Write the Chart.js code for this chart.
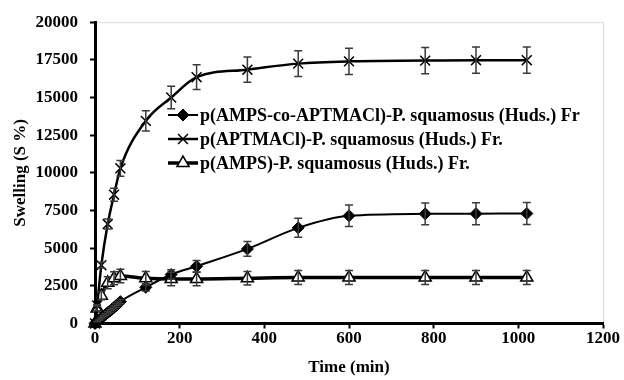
<!DOCTYPE html>
<html>
<head>
<meta charset="utf-8">
<script src="https://cdn.jsdelivr.net/npm/chart.js@4.4.1/dist/chart.umd.min.js"></script>
<style>
  html, body { margin: 0; padding: 0; background: #fff; }
  #wrap { width: 624px; height: 380px; position: relative; }
</style>
</head>
<body>
<div id="wrap"><canvas id="swellChart" width="624" height="380"></canvas></div>
<script>
// dados (tempo em min, swelling em %)
const tempoCo = [0, 5, 10, 15, 20, 25, 30, 35, 40, 45, 50, 55, 60, 120, 180, 240, 360, 480, 600, 780, 900, 1020];
const swellCo = [0, 120, 240, 360, 480, 600, 720, 830, 950, 1070, 1190, 1320, 1450, 2400, 3250, 3800, 4950, 6350, 7150, 7280, 7290, 7300];
const erroCo  = [0, 10, 20, 35, 45, 60, 70, 80, 95, 105, 120, 130, 145, 240, 320, 380, 490, 630, 710, 720, 730, 730];

const tempoCat = [0, 5, 15, 30, 45, 60, 120, 180, 240, 360, 480, 600, 780, 900, 1020];
const swellCat = [0, 1200, 3870, 6600, 8550, 10300, 13450, 15000, 16350, 16850, 17250, 17400, 17450, 17480, 17480];
const erroCat  = [0, 60, 190, 330, 430, 520, 670, 750, 820, 840, 860, 870, 870, 875, 875];

const tempoAn = [0, 5, 15, 30, 45, 60, 120, 180, 240, 360, 480, 600, 780, 900, 1020];
const swellAn = [0, 1000, 1850, 2700, 3000, 3150, 3000, 2950, 2950, 3000, 3050, 3050, 3050, 3050, 3050];
const erroAn  = [0, 150, 280, 400, 430, 450, 450, 450, 450, 450, 460, 460, 460, 460, 460];

const nomes = [
  'p(AMPS-co-APTMACl)-P. squamosus (Huds.) Fr',
  'p(APTMACl)-P. squamosus (Huds.) Fr.',
  'p(AMPS)-P. squamosus (Huds.) Fr.'
];

const ticksX = [0, 200, 400, 600, 800, 1000, 1200];
const ticksY = [0, 2500, 5000, 7500, 10000, 12500, 15000, 17500, 20000];

const fonte = 'Liberation Serif, Times New Roman, serif';

function pontos(xs, ys) {
  return xs.map((x, i) => ({ x: x, y: ys[i] }));
}

const erros = [erroCo, erroCat, erroAn];

// barras de erro
const errorBars = {
  id: 'errorBars',
  afterDatasetsDraw(chart) {
    const ctx = chart.ctx;
    const y = chart.scales.y;
    ctx.save();
    ctx.strokeStyle = '#3a3a3a';
    ctx.lineWidth = 1.5;
    chart.data.datasets.forEach((ds, i) => {
      const meta = chart.getDatasetMeta(i);
      meta.data.forEach((pt, j) => {
        const e = erros[i][j];
        if (!e) return;
        const v = ds.data[j].y;
        const top = y.getPixelForValue(v + e);
        const bot = y.getPixelForValue(v - e);
        ctx.beginPath();
        ctx.moveTo(pt.x, top); ctx.lineTo(pt.x, bot);
        ctx.moveTo(pt.x - 4, top); ctx.lineTo(pt.x + 4, top);
        ctx.moveTo(pt.x - 4, bot); ctx.lineTo(pt.x + 4, bot);
        ctx.stroke();
      });
    });
    ctx.restore();
  }
};

// moldura cinza da área do gráfico
const moldura = {
  id: 'moldura',
  beforeDraw(chart) {
    const a = chart.chartArea;
    const ctx = chart.ctx;
    ctx.save();
    ctx.strokeStyle = '#d9d9d9';
    ctx.lineWidth = 1;
    ctx.strokeRect(a.left + 0.5, a.top + 0.5, a.right - a.left, a.bottom - a.top);
    ctx.restore();
  }
};

// legenda dentro do gráfico
const legenda = {
  id: 'legendaInterna',
  afterDraw(chart) {
    const ctx = chart.ctx;
    const linhas = [115, 139, 163];
    ctx.save();
    chart.data.datasets.forEach((ds, i) => {
      const yy = linhas[i];
      ctx.strokeStyle = '#000';
      ctx.lineWidth = ds.borderWidth;
      ctx.beginPath();
      ctx.moveTo(168, yy); ctx.lineTo(198, yy);
      ctx.stroke();
      ctx.fillStyle = ds.pointBackgroundColor;
      ctx.strokeStyle = '#000';
      ctx.lineWidth = ds.pointBorderWidth;
      Chart.helpers.drawPoint(ctx, {
        pointStyle: ds.pointStyle,
        radius: ds.pointRadius,
        borderWidth: ds.pointBorderWidth,
        rotation: 0
      }, 183, yy);
      ctx.fillStyle = '#000';
      ctx.font = 'bold 18px ' + fonte;
      ctx.textBaseline = 'middle';
      ctx.textAlign = 'left';
      ctx.fillText(nomes[i], 200, yy + 1);
    });
    ctx.restore();
  }
};

const ctx = document.getElementById('swellChart').getContext('2d');
new Chart(ctx, {
  type: 'line',
  data: {
    datasets: [
      {
        label: nomes[0],
        data: pontos(tempoCo, swellCo),
        borderColor: '#000',
        borderWidth: 2,
        pointStyle: 'rectRot',
        pointRadius: 6,
        pointBackgroundColor: '#000',
        pointBorderColor: '#000',
        pointBorderWidth: 1,
        cubicInterpolationMode: 'monotone',
        clip: false
      },
      {
        label: nomes[1],
        data: pontos(tempoCat, swellCat),
        borderColor: '#000',
        borderWidth: 2.5,
        pointStyle: 'crossRot',
        pointRadius: 7,
        pointBackgroundColor: '#000',
        pointBorderColor: '#000',
        pointBorderWidth: 1.5,
        cubicInterpolationMode: 'monotone',
        clip: false
      },
      {
        label: nomes[2],
        data: pontos(tempoAn, swellAn),
        borderColor: '#000',
        borderWidth: 3.5,
        pointStyle: 'triangle',
        pointRadius: 7,
        pointBackgroundColor: '#fff',
        pointBorderColor: '#000',
        pointBorderWidth: 1.5,
        cubicInterpolationMode: 'monotone',
        clip: false
      }
    ]
  },
  options: {
    responsive: false,
    animation: false,
    layout: { padding: { top: 19, right: 21, bottom: 0, left: 0 } },
    plugins: {
      legend: { display: false },
      tooltip: { enabled: false }
    },
    scales: {
      x: {
        type: 'linear',
        min: 0,
        max: 1200,
        afterBuildTicks: s => { s.ticks = ticksX.map(v => ({ value: v })); },
        afterFit: s => { s.height = 56.5; },
        grid: { display: true, drawOnChartArea: false, tickLength: 5, tickWidth: 2, tickColor: '#000' },
        border: { display: true, color: '#000', width: 3 },
        ticks: { color: '#000', padding: 0, maxRotation: 0, callback: v => String(v), font: { family: fonte, size: 17, weight: 'bold' } },
        title: { display: true, text: 'Time (min)', color: '#000', padding: { top: 7, bottom: 2 }, font: { family: fonte, size: 17, weight: 'bold' } }
      },
      y: {
        min: 0,
        max: 20000,
        afterBuildTicks: s => { s.ticks = ticksY.map(v => ({ value: v })); },
        afterFit: s => { s.width = 95; },
        grid: { display: true, drawOnChartArea: false, tickLength: 5, tickWidth: 2, tickColor: '#000' },
        border: { display: true, color: '#000', width: 3 },
        ticks: { color: '#000', padding: 12, callback: v => String(v), font: { family: fonte, size: 17, weight: 'bold' } },
        title: { display: true, text: 'Swelling (S %)', color: '#000', padding: { top: 10, bottom: 2 }, font: { family: fonte, size: 17, weight: 'bold' } }
      }
    }
  },
  plugins: [moldura, errorBars, legenda]
});
</script>
</body>
</html>
